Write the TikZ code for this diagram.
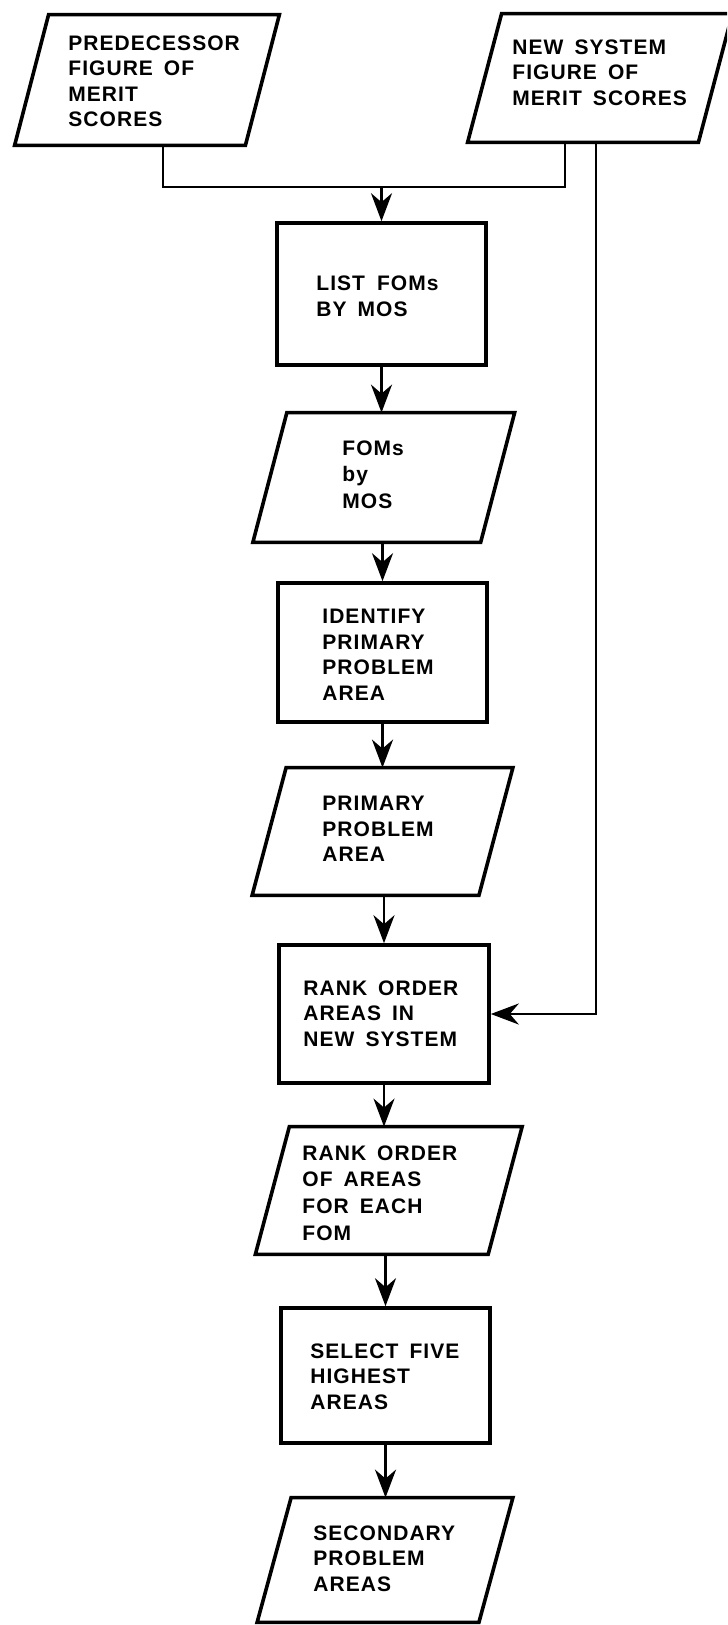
\documentclass[tikz,border=0pt]{standalone}
\usepackage{fontspec}
\setmainfont{Liberation Sans}
\newfontfamily\labelfont[LetterSpace=5.0,WordSpace=1.6]{Liberation Sans}
\usetikzlibrary{arrows.meta,calc}

% parallelogram (data) outline around a named node, slanted to the right at the top
\newcommand\paraoutline[1]{%
  \draw[outline] ($(#1.north west)+(17,0)$) -- ($(#1.north east)+(17,0)$)
    -- ($(#1.south east)+(-17,0)$) -- ($(#1.south west)+(-17,0)$) -- cycle;}

\begin{document}
\begin{tikzpicture}[x=0.5pt,y=-0.5pt,
  outline/.style={line width=1.8pt, line join=miter},
  procbox/.style={draw, outline, inner sep=0pt},
  databox/.style={inner sep=0pt},
  txt/.style={anchor=north west, inner sep=0pt, align=left,
    font=\labelfont\bfseries\fontsize{10.5}{12.75}\selectfont},
  widetxt/.style={txt, font=\labelfont\bfseries\fontsize{10.5}{13.4}\selectfont},
  flow/.style={line width=1.4pt},
  arrow/.style={flow, -{Stealth[length=14pt,width=10.5pt,inset=4.5pt]}}
]
\useasboundingbox (0,0) rectangle (727,1625);
\clip (0,0) rectangle (727,1625);

% inputs
\node[databox, minimum width=115pt, minimum height=65pt] (pred) at (147,80) {};
\node[databox, minimum width=115pt, minimum height=64pt] (newsys) at (600,78) {};
\paraoutline{pred}
\paraoutline{newsys}
\node[txt] (predtxt) at (68,35) {PREDECESSOR\\FIGURE OF\\MERIT\\SCORES};
\node[txt] (newtxt) at (512,39) {NEW SYSTEM\\FIGURE OF\\MERIT SCORES};

% main column
\node[procbox, minimum width=104.5pt, minimum height=71pt] (list) at (381.5,294) {};
\node[widetxt] (listtxt) at (316,275) {LIST\hspace{6pt}FOMs\\BY MOS};

\node[databox, minimum width=113.5pt, minimum height=64.5pt] (fom) at (383.75,477.5) {};
\paraoutline{fom}
\node[widetxt] (fomtxt) at (342,440) {FOMs\\by\\MOS};

\node[procbox, minimum width=104.5pt, minimum height=69.5pt] (ident) at (382.5,652.5) {};
\node[txt] (identtxt) at (322,609) {IDENTIFY\\PRIMARY\\PROBLEM\\AREA};

\node[databox, minimum width=113pt, minimum height=63.5pt] (prim) at (382.5,831.5) {};
\paraoutline{prim}
\node[txt] (primtxt) at (322,796) {PRIMARY\\PROBLEM\\AREA};

\node[procbox, minimum width=105pt, minimum height=69pt] (rank) at (384,1014) {};
\node[txt] (ranktxt) at (303,980) {RANK ORDER\\AREAS IN\\NEW SYSTEM};

\node[databox, minimum width=116pt, minimum height=63.5pt] (rord) at (388.75,1190.5) {};
\paraoutline{rord}
\node[widetxt] (rordtxt) at (302,1145) {RANK ORDER\\OF AREAS\\FOR EACH\\FOM};

\node[procbox, minimum width=104.5pt, minimum height=67.5pt] (select) at (385.5,1375.5) {};
\node[txt] (selecttxt) at (310,1343) {SELECT FIVE\\HIGHEST\\AREAS};

\node[databox, minimum width=110.5pt, minimum height=62pt] (second) at (385,1560) {};
\paraoutline{second}
\node[txt] (secondtxt) at (313,1525) {SECONDARY\\PROBLEM\\AREAS};

% connectors
\coordinate (hbar) at (0,187);
\draw[flow] ([xshift=8pt]pred.south) |- (list.north |- hbar) -| ([xshift=-17.5pt]newsys.south);
\draw[arrow] (list.north |- hbar) -- (list.north);
\draw[arrow] ([xshift=-2pt]newsys.south) |- (rank.east);

\draw[arrow] (list.south) -- (list.south |- fom.north);
\draw[arrow] (ident.north |- fom.south) -- (ident.north);
\draw[arrow] (ident.south) -- (ident.south |- prim.north);
\draw[arrow] (rank.north |- prim.south) -- (rank.north);
\draw[arrow] (rank.south) -- (rank.south |- rord.north);
\draw[arrow] (select.north |- rord.south) -- (select.north);
\draw[arrow] (select.south) -- (select.south |- second.north);
\end{tikzpicture}
\end{document}
